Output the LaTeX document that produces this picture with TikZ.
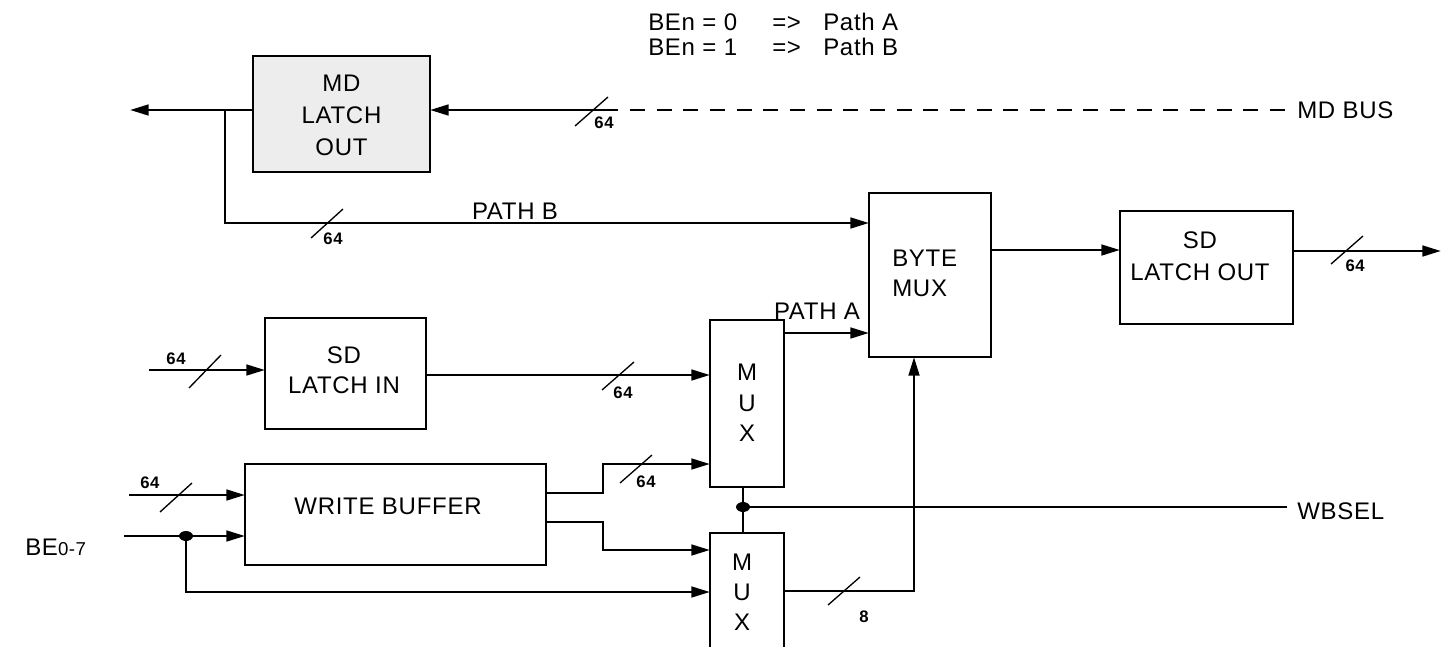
\documentclass[tikz,border=0pt]{standalone}
\usepackage{fontspec}
\setmainfont{Liberation Sans}[LetterSpace=3]
\usetikzlibrary{arrows.meta,shapes.geometric}
\begin{document}
\begin{tikzpicture}[x=0.75pt,y=-0.75pt,
  conn/.style={line width=2pt},
  arr/.style={-{Triangle[length=14pt,width=8pt]}},
  box/.style={draw, line width=1.5pt, inner sep=0pt, outer sep=0pt},
  slash/.style={line width=1pt},
  lbl/.style={font=\fontsize{18pt}{24pt}\selectfont, inner sep=0pt},
  bus/.style={font=\bfseries\fontsize{12.5pt}{14pt}\selectfont, inner sep=0pt},
  dotn/.style={ellipse, fill=black, inner sep=0pt, minimum width=10.5pt, minimum height=7.5pt}]
\useasboundingbox (0,0) rectangle (1441,646);
\clip (0,0) rectangle (1441,646);

% boxes
\node[box, fill=black!7, minimum width=132.75pt, minimum height=87pt] (md) at (341.5,114) {};
\node[box, minimum width=91.5pt, minimum height=123pt] (bmux) at (930,275) {};
\node[box, minimum width=129.75pt, minimum height=84.75pt] (sdo) at (1206.5,267.5) {};
\node[box, minimum width=120.75pt, minimum height=83.25pt] (sdi) at (345.5,373.5) {};
\node[box, minimum width=55.5pt, minimum height=125.25pt] (mux1) at (747,403.5) {};
\node[box, minimum width=225.75pt, minimum height=75.75pt] (wb) at (395.5,514.5) {};
\node[box, minimum width=55.5pt, minimum height=110.25pt] (mux2) at (747,606.5) {};

% box texts
\node[lbl, align=center] (mdt) at (341.5,115) {MD\\LATCH\\OUT};
\node[lbl, anchor=west] (bt1) at (892,258) {BYTE};
\node[lbl, anchor=west] (bt2) at (892,288) {MUX};
\node[lbl, align=center] (sdot) at (1200,256) {SD\\LATCH OUT};
\node[lbl, align=center, font=\fontsize{18pt}{22.5pt}\selectfont] (sdit) at (344,370) {SD\\LATCH IN};
\node[lbl, align=center, font=\fontsize{18pt}{23pt}\selectfont] (m1t) at (747,403) {M\\U\\X};
\node[lbl] (wbt) at (388,506) {WRITE BUFFER};
\node[lbl, align=center, font=\fontsize{18pt}{22.5pt}\selectfont] (m2t) at (742,592) {M\\U\\X};

% header
\node[lbl, anchor=base west] (h1a) at (648,30) {BEn = 0};
\node[lbl, anchor=base west] (h1b) at (772,30) {=>};
\node[lbl, anchor=base west] (h1c) at (823,30) {Path A};
\node[lbl, anchor=base west] (h2a) at (648,55) {BEn = 1};
\node[lbl, anchor=base west] (h2b) at (772,55) {=>};
\node[lbl, anchor=base west] (h2c) at (823,55) {Path B};

% MD latch out connections
\coordinate (mdL) at (130,110);
\coordinate (br) at (225,110);
\draw[conn,arr] (md.west |- br) -- (mdL);
\coordinate (pbE) at (869,223);
\draw[conn,arr] (br) |- (pbE);
\node[lbl] (pbt) at (515,211) {PATH B};
\coordinate (mdS) at (607,110);
\coordinate (mdR) at (1285,110);
\draw[line width=1.3pt, dash pattern=on 11.25pt off 8.75pt] (mdR) -- (mdS);
\draw[conn,arr] (mdS) -- (md.east |- mdS);
\node[lbl, anchor=west] (mdbus) at (1297,110) {MD BUS};

% byte mux -> sd latch out -> out
\draw[conn,arr] (bmux.east |- 0,250) -- (sdo.west |- 0,250);
\coordinate (outE) at (1441,251);
\draw[conn,arr] (sdo.east |- outE) -- (outE);

% sd latch in
\coordinate (sdiIn) at (149,370);
\draw[conn,arr] (sdiIn) -- (sdi.west |- sdiIn);
\draw[conn,arr] (sdi.east |- 0,375) -- (mux1.west |- 0,375);
\draw[conn,arr] (mux1.east |- 0,333) -- (bmux.west |- 0,333);
\node[lbl] (pat) at (817,311) {PATH A};

% write buffer
\coordinate (wbIn) at (129,495);
\draw[conn,arr] (wbIn) -- (wb.west |- wbIn);
\coordinate (beIn) at (124,536);
\draw[conn,arr] (beIn) -- (wb.west |- beIn);
\node[dotn] (d1) at (186,536) {};
\draw[conn,arr] (d1.center) |- (mux2.west |- 0,592);
\draw[conn,arr] (wb.east |- 0,493) -| (603,464) -- (mux1.west |- 0,464);
\draw[conn,arr] (wb.east |- 0,522) -| (603,550) -- (mux2.west |- 0,550);
\node[lbl, anchor=base west] (be) at (25,555) {BE{\fontsize{14pt}{16pt}\selectfont 0-7}};

% WBSEL
\node[dotn] (d2) at (743,507) {};
\draw[line width=1.5pt] (mux1.south -| d2) -- (mux2.north -| d2);
\coordinate (wbselE) at (1287,507);
\draw[conn] (d2.center) -- (wbselE);
\node[lbl, anchor=west] (wbsel) at (1297,511) {WBSEL};

% mux2 -> byte mux
\draw[conn,arr] (mux2.east |- 0,591) -| (bmux.south -| 914,0);

% bus width slashes and labels
\draw[slash] (575,126) -- (608,97);   \node[bus] (w1) at (604,123) {64};
\draw[slash] (311,238) -- (343,209);  \node[bus] (w2) at (333,239) {64};
\draw[slash] (189,388) -- (221,355);  \node[bus] (w3) at (176,359) {64};
\draw[slash] (602,390) -- (634,362);  \node[bus] (w4) at (623,393) {64};
\draw[slash] (160,512) -- (192,483);  \node[bus] (w5) at (150,483) {64};
\draw[slash] (620,483) -- (652,455);  \node[bus] (w6) at (646,482) {64};
\draw[slash] (828,605) -- (860,577);  \node[bus] (w7) at (864,617) {8};
\draw[slash] (1331,264) -- (1363,236); \node[bus] (w8) at (1355,266) {64};
\end{tikzpicture}
\end{document}
